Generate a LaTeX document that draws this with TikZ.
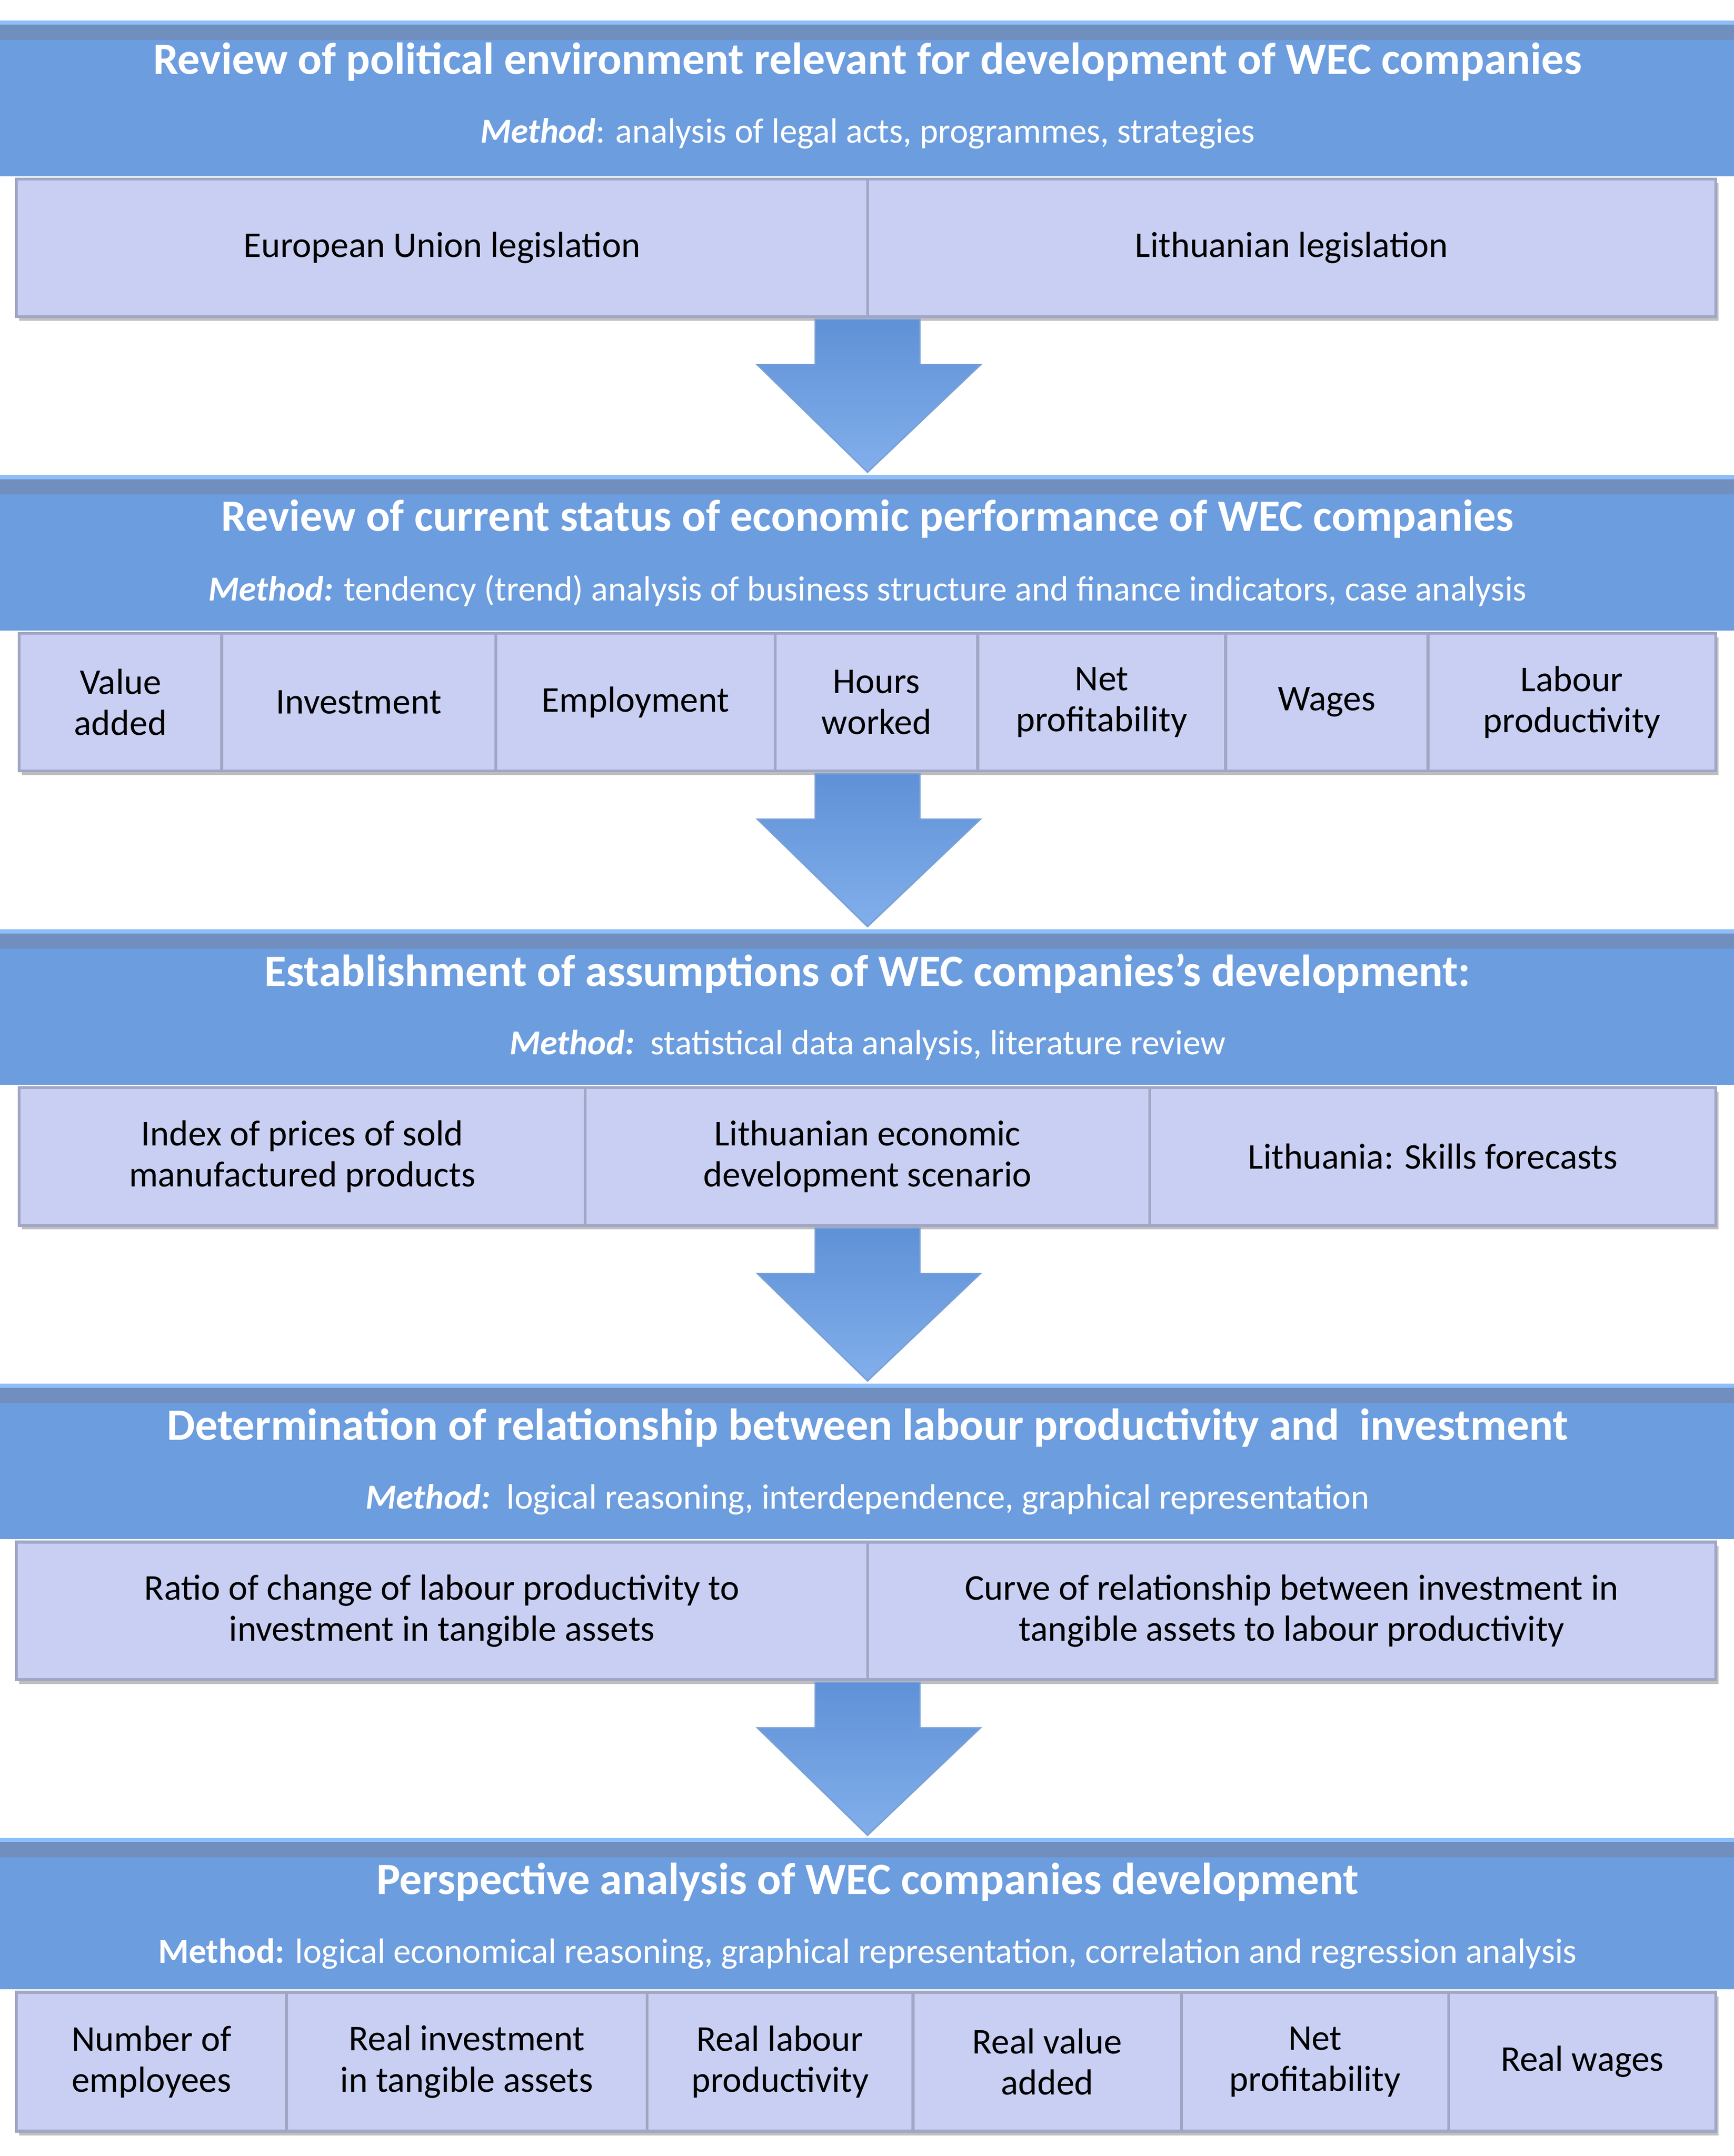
\documentclass[tikz,border=0pt]{standalone}
\usepackage{fontspec}
\setmainfont{Carlito}
\begin{document}
\begin{tikzpicture}[x=0.02cm,y=-0.02cm,
 hdr/.style={draw=none,fill=hblue,inner sep=0,outer sep=0},
 cell/.style={draw=cellline,line width=1.2pt,fill=cellfill,inner sep=0,outer sep=0,align=center,font=\fontsize{15}{17}\selectfont},
 ttl/.style={text=white,font=\bfseries\fontsize{18.5}{20}\selectfont,inner sep=0},
 mth/.style={text=white,font=\fontsize{14.5}{16}\selectfont,inner sep=0},
 arr/.style={top color=arrtop,bottom color=arrbot,draw=arrline,line width=0.6pt}]
\definecolor{hblue}{RGB}{108,157,222}
\definecolor{hdark}{RGB}{112,142,190}
\definecolor{hlight}{RGB}{140,190,250}
\definecolor{cellfill}{RGB}{200,207,242}
\definecolor{cellline}{RGB}{160,166,196}
\definecolor{arrtop}{RGB}{95,145,215}
\definecolor{arrbot}{RGB}{130,175,235}
\definecolor{arrline}{RGB}{120,160,215}
\useasboundingbox (0,0) rectangle (1259,1566);

% header macro: #1 name, #2 top y, #3 bottom y
\newcommand\myhdr[3]{%
 \node[hdr,minimum width=1230,minimum height={(#3-#2)*0.02cm}] (#1) at (630,{(#2+#3)/2}) {};
 \fill[hlight] (#1.north west) -- ++(15,0) -- ++(0,8) -- ([xshift=15]#1.south west) -- (#1.south west) -- cycle;
 \fill[hdark] ([xshift=2]#1.north west) -- (#1.north east) -- ++(0,14) -- ([xshift=15,yshift=-0.28cm]#1.north west) -- cycle;
 \fill[hlight] (#1.north west) rectangle ([yshift=-0.06cm]#1.north east);
 \fill[hlight] ([xshift=-3]#1.north east) rectangle (#1.south east);
}
% cell macro: #1 name, #2 x1, #3 x2, #4 y1, #5 y2, #6 text
\newcommand\mycell[6]{%
 \fill[black!25] (#2+2,#4+3) rectangle (#3+2,#5+3);
 \node[cell,minimum width={(#3-#2)*0.02cm},minimum height={(#5-#4)*0.02cm}] (#1) at ({(#2+#3)/2},{(#4+#5)/2}) {#6};
}
\newcommand\myarrow[3]{% name, y1, y2
 \coordinate (#1s) at (630,#2); \coordinate (#1e) at (630,#3);
 \draw[arr] (592,#2) -- (668,#2) -- (668,#2+33) -- (712,#2+33) -- (#1e) -- (550,#2+33) -- (592,#2+33) -- cycle;
}

% Block 1
\myhdr{h1}{15}{128}
\node[ttl] (t1) at (630,45) {Review of political environment relevant for development of WEC companies};
\node[mth] (m1) at (630,97) {\textbf{\textit{Method}}: analysis of legal acts, programmes, strategies};
\mycell{c11}{12}{630}{130}{230}{European Union legislation}
\mycell{c12}{630}{1246}{130}{230}{Lithuanian legislation}
\myarrow{a1}{232}{343}

% Block 2
\myhdr{h2}{345}{458}
\node[ttl] (t2) at (630,377) {Review of current status of economic performance of WEC companies};
\node[mth] (m2) at (630,429) {\textbf{\textit{Method:}} tendency (trend) analysis of business structure and finance indicators, case analysis};
\mycell{c21}{14}{161}{460}{560}{Value\\added}
\mycell{c22}{161}{360}{460}{560}{Investment}
\mycell{c23}{360}{563}{460}{560}{Employment}
\mycell{c24}{563}{710}{460}{560}{Hours\\worked}
\mycell{c25}{710}{890}{460}{560}{Net\\profitability}
\mycell{c26}{890}{1037}{460}{560}{Wages}
\mycell{c27}{1037}{1246}{460}{560}{Labour\\productivity}
\myarrow{a2}{562}{673}

% Block 3
\myhdr{h3}{675}{788}
\node[ttl] (t3) at (630,707) {Establishment of assumptions of WEC companies's development:};
\node[mth] (m3) at (630,759) {\textbf{\textit{Method:}}\ \ statistical data analysis, literature review};
\mycell{c31}{14}{425}{790}{890}{Index of prices of sold\\manufactured products}
\mycell{c32}{425}{835}{790}{890}{Lithuanian economic\\development scenario}
\mycell{c33}{835}{1246}{790}{890}{Lithuania: Skills forecasts}
\myarrow{a3}{892}{1003}

% Block 4
\myhdr{h4}{1005}{1118}
\node[ttl] (t4) at (630,1037) {Determination of relationship between labour productivity and\ \ investment};
\node[mth] (m4) at (630,1089) {\textbf{\textit{Method:}}\ \ logical reasoning, interdependence, graphical representation};
\mycell{c41}{12}{630}{1120}{1220}{Ratio of change of labour productivity to\\investment in tangible assets}
\mycell{c42}{630}{1246}{1120}{1220}{Curve of relationship between investment in\\tangible assets to labour productivity}
\myarrow{a4}{1222}{1333}

% Block 5
\myhdr{h5}{1335}{1445}
\node[ttl] (t5) at (630,1367) {Perspective analysis of WEC companies development};
\node[mth] (m5) at (630,1419) {\textbf{Method:} logical economical reasoning, graphical representation,\ correlation and regression analysis};
\mycell{c51}{12}{208}{1447}{1548}{Number of\\employees}
\mycell{c52}{208}{470}{1447}{1548}{Real investment\\in tangible assets}
\mycell{c53}{470}{663}{1447}{1548}{Real labour\\productivity}
\mycell{c54}{663}{858}{1447}{1548}{Real value\\added}
\mycell{c55}{858}{1052}{1447}{1548}{Net\\profitability}
\mycell{c56}{1052}{1246}{1447}{1548}{Real wages}
\end{tikzpicture}
\end{document}
